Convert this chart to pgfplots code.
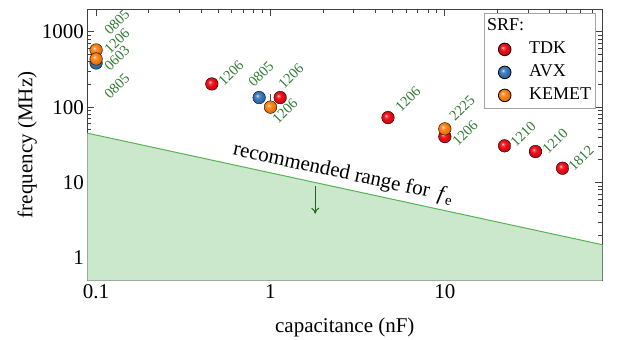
\documentclass[border=0pt]{standalone}
\usepackage{fontspec}
\setmainfont{Liberation Serif}
\usepackage{pgfplots}
\pgfplotsset{compat=1.18}
\usetikzlibrary{arrows.meta}
\definecolor{fillgreen}{RGB}{204,232,204}
\definecolor{linegreen}{RGB}{85,180,85}
\definecolor{labgreen}{RGB}{46,122,50}
\definecolor{arrgreen}{RGB}{30,100,30}
\definecolor{tdkred}{RGB}{240,10,20}
\definecolor{avxblue}{RGB}{55,120,185}
\definecolor{kemorange}{RGB}{255,128,16}
\makeatletter
\pgfdeclareradialshading[tikz@ball]{ball}{\pgfqpoint{-8bp}{8bp}}{%
 color(0bp)=(tikz@ball!10!white); color(6bp)=(tikz@ball!80!white); color(14bp)=(tikz@ball);
 color(25bp)=(tikz@ball!85!black); color(50bp)=(tikz@ball!60!black)}
\makeatother
\begin{document}
\begin{tikzpicture}
\path[use as bounding box] (0,0) rectangle (617bp,340bp);
\begin{axis}[
  at={(87.3bp,59.3bp)}, anchor=south west,
  scale only axis, width=515bp, height=271.7bp,
  xmode=log, ymode=log,
  xmin=0.089, xmax=80, ymin=0.5, ymax=2000,
  xtick={0.1,1,10}, xticklabels={0.1,1,10},
  ytick={1,10,100,1000}, yticklabels={1,10,100,1000},
  minor xtick={0.2,0.3,0.4,0.5,0.6,0.7,0.8,0.9,2,3,4,5,6,7,8,9,20,30,40,50,60,70},
  minor ytick={0.6,0.7,0.8,0.9,2,3,4,5,6,7,8,9,20,30,40,50,60,70,80,90,200,300,400,500,600,700,800,900},
  tick label style={font=\fontsize{21bp}{25bp}\selectfont},
  label style={font=\fontsize{21bp}{25bp}\selectfont},
  axis line style={draw=black!75, line width=1bp},
  every tick/.style={black!75, line width=0.8bp},
  major tick length=7bp, minor tick length=4bp,
  xlabel={capacitance (nF)}, ylabel={frequency (MHz)},
  xlabel style={at={(axis description cs:0.5,0)}, anchor=base, yshift=-52bp},
  ylabel style={at={(axis description cs:0,0.5)}, anchor=base, yshift=55bp},
  legend cell align=left,
  legend style={at={(0.9878,0.9853)}, anchor=north east, draw=black!35, line width=0.8bp,
    font=\fontsize{18bp}{21bp}\selectfont, inner sep=1.5bp, row sep=0bp, column sep=13bp,
    nodes={inner sep=3bp, text height=13bp, text depth=4bp}},
  legend image code/.code={\path (-18bp,0bp) (8bp,0bp); \draw[#1] plot coordinates {(0bp,0bp)};},
  clip=false,
]
\addlegendimage{empty legend}
\addplot[forget plot, fill=fillgreen, draw=none] coordinates {(0.089,0.5) (0.089,45.2) (80,1.5) (80,0.5)} -- cycle;
\addplot[forget plot, linegreen, line width=1bp] coordinates {(0.089,45.2) (80,1.5)};
\addplot[forget plot, arrgreen, line width=1bp, -{To[length=6bp,width=8bp]}] coordinates {(1.805,8.87) (1.805,3.86)};
\node[anchor=base west, rotate=-12.23, inner sep=0pt, font=\fontsize{21bp}{25bp}\selectfont] at (axis cs:0.603,23.3) {recommended range for \,\textit{f}\textsubscript{e}};
\addplot[forget plot, black!70, line width=1bp] coordinates {(1,100) (1,150)};
\addplot[only marks, mark=ball, mark size=6.3bp, mark options={ball color=tdkred}] coordinates {
 (0.461,203) (1.137,134) (4.72,72.7) (10,40.7) (22.0,30.7) (33.1,25.8) (47.3,15.5)};
\addplot[only marks, mark=ball, mark size=6.3bp, mark options={ball color=avxblue}] coordinates {
 (0.1,385) (0.861,134)};
\addplot[only marks, mark=ball, mark size=6.3bp, mark options={ball color=kemorange}] coordinates {
 (0.1,572) (0.1,435) (1,100) (10,51.5)};
\legend{\makebox[0pt][l]{\hspace*{-42bp}SRF:},TDK,AVX,KEMET}
\begin{scope}[every node/.style={anchor=south west, rotate=45, inner sep=0pt, text=labgreen, font=\fontsize{14.5bp}{16bp}\selectfont}]
\node at (axis cs:0.1203,877) {0805};
\node at (axis cs:0.1203,491) {1206};
\node at (axis cs:0.1203,293) {0603};
\node at (axis cs:0.1203,124.7) {0805};
\node at (axis cs:0.5425,185) {1206};
\node at (axis cs:0.806,180) {0805};
\node at (axis cs:1.198,169) {1206};
\node at (axis cs:1.107,58.2) {1206};
\node at (axis cs:5.62,83.9) {1206};
\node at (axis cs:11.47,63.8) {2225};
\node at (axis cs:11.94,29.8) {1206};
\node at (axis cs:25.7,28.9) {1210};
\node at (axis cs:39.2,23.3) {1210};
\node at (axis cs:55.3,13.9) {1812};
\end{scope}
\end{axis}
\end{tikzpicture}
\end{document}
